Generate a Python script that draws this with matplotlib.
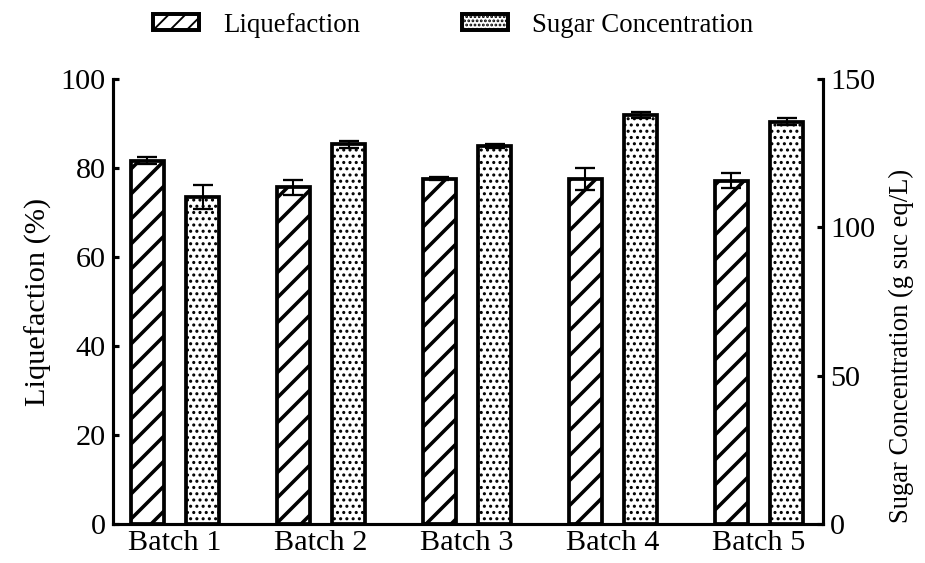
import matplotlib
matplotlib.use('Agg')
import matplotlib.pyplot as plt
import numpy as np
from matplotlib.patches import Patch

batches = ['Batch 1', 'Batch 2', 'Batch 3', 'Batch 4', 'Batch 5']
liquefaction = [81.6, 75.6, 77.6, 77.5, 77.1]
liquefaction_err = [0.8, 1.7, 0.3, 2.4, 1.7]
sugar = [110.2, 127.9, 127.3, 137.8, 135.6]
sugar_err = [4.2, 1.1, 0.6, 1.1, 1.2]

left_ticks = [0, 20, 40, 60, 80, 100]
right_ticks = [0, 50, 100, 150]

plt.rcParams['font.family'] = ['Liberation Serif', 'DejaVu Serif']

DPI = 150
fig = plt.figure(figsize=(925 / DPI, 563 / DPI), dpi=DPI)
ax = fig.add_axes([0.122, 0.069, 0.768, 0.791])
ax2 = ax.twinx()

x = np.arange(len(batches))
w = 0.226
off = 0.19
edge_lw = 1.8

def set_hlw(bars, lw):
    for b in bars:
        if hasattr(b, 'set_hatch_linewidth'):
            b.set_hatch_linewidth(lw)

plt.rcParams['hatch.linewidth'] = 1.7
b1 = ax.bar(x - off, liquefaction, w, facecolor='white', edgecolor='black',
            linewidth=edge_lw, hatch='//', zorder=2)
set_hlw(b1, 1.7)
ax.errorbar(x - off, liquefaction, yerr=liquefaction_err, fmt='none', ecolor='black',
            elinewidth=1.0, capsize=4.6, capthick=1.1, zorder=3)

plt.rcParams['hatch.linewidth'] = 0.9
b2 = ax2.bar(x + off, sugar, w, facecolor='white', edgecolor='black',
             linewidth=edge_lw, hatch='....', zorder=2)
set_hlw(b2, 0.9)
ax2.errorbar(x + off, sugar, yerr=sugar_err, fmt='none', ecolor='black',
             elinewidth=1.0, capsize=4.6, capthick=1.1, zorder=3)

ax.set_xlim(-0.425, 4.44)
ax.set_ylim(0, 100)
ax2.set_ylim(0, 150)
ax.set_yticks(left_ticks)
ax2.set_yticks(right_ticks)
ax.set_xticks(x)
ax.set_xticklabels(batches, fontsize=14.5)

for a in (ax, ax2):
    a.spines['top'].set_visible(False)
    for s in a.spines.values():
        s.set_linewidth(1.5)
ax.spines['right'].set_visible(False)
ax2.spines['left'].set_visible(False)
ax2.spines['bottom'].set_visible(False)

ax.tick_params(axis='y', direction='in', length=3, width=1.5, labelsize=14.5, pad=3.4)
ax.tick_params(axis='x', length=0, labelsize=14.5, pad=3)
ax2.tick_params(axis='y', direction='in', length=3, width=1.5, labelsize=14.5, pad=3.4)

ax.set_ylabel('Liquefaction (%)', fontsize=14.6, labelpad=4)
ax2.set_ylabel('Sugar Concentration (g suc eq/L)', fontsize=12.8)
ax2.yaxis.set_label_coords(1.093, 0.40)

handles = [Patch(facecolor='white', edgecolor='black', linewidth=1.9, hatch='///'),
           Patch(facecolor='white', edgecolor='black', linewidth=1.9, hatch='......')]
leg = fig.legend(handles, ['Liquefaction', 'Sugar Concentration'], loc='center',
                 bbox_to_anchor=(0.49, 0.955), ncol=2, frameon=False, fontsize=12.9,
                 handlelength=1.7, handleheight=0.55, handletextpad=0.9,
                 columnspacing=3.8)

fig.savefig('out.png', dpi=DPI)
